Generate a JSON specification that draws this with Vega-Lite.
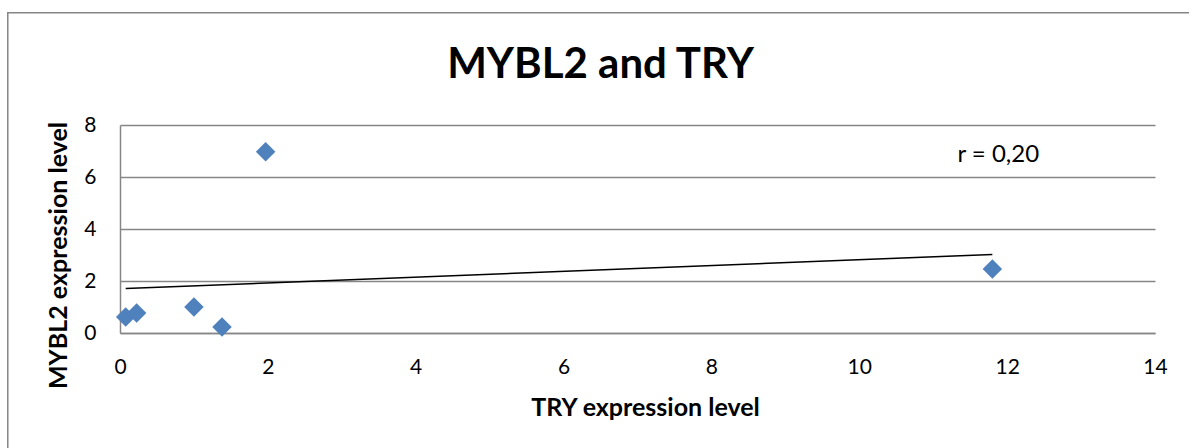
{
  "$schema": "https://vega.github.io/schema/vega-lite/v6.json",
  "autosize": "none",
  "width": 1035,
  "height": 208,
  "padding": {"left": 120, "top": 125, "right": 34, "bottom": 115},
  "background": "white",
  "config": {
    "view": {"stroke": null},
    "font": "Lato"
  },
  "title": {
    "text": "MYBL2 and TRY",
    "font": "Lato",
    "fontSize": 42,
    "fontWeight": "bold",
    "color": "#000000",
    "anchor": "middle",
    "baseline": "alphabetic",
    "dx": -37,
    "offset": -108,
    "frame": "group"
  },
  "layer": [
    {
      "data": {"values": [{"x1": -1.518, "x2": 14.6, "y1": 12.32, "y2": -5}]},
      "mark": {"type": "rect", "fill": null, "stroke": "#868686", "strokeWidth": 1.5, "clip": false},
      "encoding": {
        "x": {"field": "x1", "type": "quantitative", "scale": {"domain": [0, 14]}},
        "x2": {"field": "x2"},
        "y": {"field": "y1", "type": "quantitative", "scale": {"domain": [0, 8]}},
        "y2": {"field": "y2"}
      }
    },
    {
      "data": {"values": [
        {"TRY": 0.077, "MYBL2": 0.62},
        {"TRY": 0.225, "MYBL2": 0.77},
        {"TRY": 1.0, "MYBL2": 1.0},
        {"TRY": 1.38, "MYBL2": 0.23},
        {"TRY": 1.97, "MYBL2": 6.97},
        {"TRY": 11.8, "MYBL2": 2.46}
      ]},
      "mark": {"type": "point", "shape": "diamond", "filled": true, "color": "#4F81BD", "opacity": 1, "size": 380},
      "encoding": {
        "x": {
          "field": "TRY", "type": "quantitative",
          "scale": {"domain": [0, 14], "nice": false, "zero": false},
          "axis": {
            "title": "TRY expression level",
            "titleFont": "Lato", "titleFontSize": 25, "titleFontWeight": "bold", "titleColor": "#000",
            "titlePadding": 18,
            "titleX": 525,
            "values": [0, 2, 4, 6, 8, 10, 12, 14],
            "format": "d",
            "labelFlush": false,
            "labelFont": "Lato", "labelFontSize": 21, "labelColor": "#000", "labelPadding": 23,
            "ticks": false, "grid": false,
            "domainColor": "#868686", "domainWidth": 1.5
          }
        },
        "y": {
          "field": "MYBL2", "type": "quantitative",
          "scale": {"domain": [0, 8], "nice": false},
          "axis": {
            "title": "MYBL2 expression level",
            "titleFont": "Lato", "titleFontSize": 25, "titleFontWeight": "bold", "titleColor": "#000",
            "titlePadding": 12,
            "titleY": 130,
            "values": [0, 2, 4, 6, 8],
            "format": "d",
            "labelFlush": false,
            "labelFont": "Lato", "labelFontSize": 21, "labelColor": "#000", "labelPadding": 24,
            "ticks": false,
            "grid": true, "gridColor": "#868686", "gridWidth": 1.5,
            "domainColor": "#868686", "domainWidth": 1.5
          }
        }
      }
    },
    {
      "data": {"values": [
        {"TRY": 0.077, "fit": 1.71},
        {"TRY": 11.8, "fit": 3.02}
      ]},
      "mark": {"type": "line", "color": "#000000", "strokeWidth": 1.5},
      "encoding": {
        "x": {"field": "TRY", "type": "quantitative"},
        "y": {"field": "fit", "type": "quantitative"}
      }
    },
    {
      "data": {"values": [{"TRY": 11.88, "MYBL2": 6.85, "label": "r = 0,20"}]},
      "mark": {"type": "text", "font": "Lato", "fontSize": 24, "color": "#000", "align": "center", "baseline": "middle"},
      "encoding": {
        "x": {"field": "TRY", "type": "quantitative"},
        "y": {"field": "MYBL2", "type": "quantitative"},
        "text": {"field": "label"}
      }
    }
  ]
}
